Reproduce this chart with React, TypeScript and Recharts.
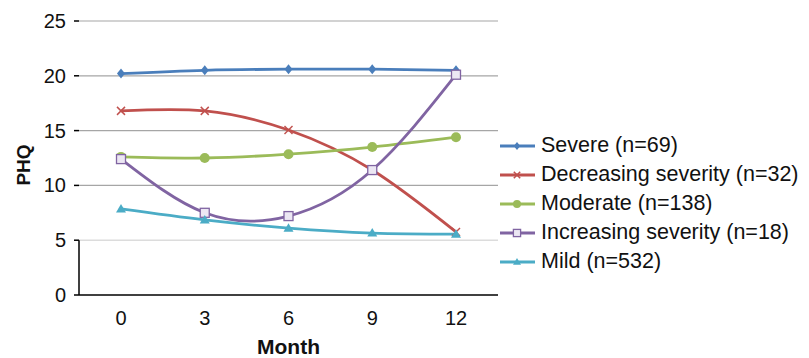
import { CartesianGrid, Line, LineChart, ReferenceLine, XAxis, YAxis } from "recharts";

const months = ["0", "3", "6", "9", "12"];
const severe = [20.2, 20.5, 20.6, 20.6, 20.5];
const decreasing = [16.8, 16.8, 15.05, 11.4, 5.75];
const moderate = [12.6, 12.5, 12.85, 13.5, 14.4];
const increasing = [12.4, 7.5, 7.2, 11.4, 20.1];
const mild = [7.85, 6.85, 6.1, 5.65, 5.55];
const yTicks = [0, 5, 10, 15, 20, 25];
const darkGrid = [10, 15, 20, 25];
const lightGrid = [5];

const SERIES = [
  { key: "severe", name: "Severe (n=69)", color: "#4a7ebb", marker: "diamond" },
  { key: "decreasing", name: "Decreasing severity (n=32)", color: "#c0504d", marker: "x" },
  { key: "moderate", name: "Moderate (n=138)", color: "#9bbb59", marker: "circle" },
  { key: "increasing", name: "Increasing severity (n=18)", color: "#8064a2", marker: "square" },
  { key: "mild", name: "Mild (n=532)", color: "#4bacc6", marker: "triangle" },
];

const data = months.map((m, i) => ({
  month: m,
  severe: severe[i],
  decreasing: decreasing[i],
  moderate: moderate[i],
  increasing: increasing[i],
  mild: mild[i],
}));

const FONT = "'Liberation Sans', Arial, sans-serif";
const PLOT_TOP = 21;
const PLOT_BOTTOM = 295;

function Marker({ kind, cx, cy, color, s = 1 }: { kind: string; cx: number; cy: number; color: string; s?: number }) {
  if (cx == null || cy == null) return null;
  if (kind === "diamond") {
    const r = 5 * s;
    return <path d={`M${cx},${cy - r}L${cx + r * 0.8},${cy}L${cx},${cy + r}L${cx - r * 0.8},${cy}Z`} fill={color} />;
  }
  if (kind === "x") {
    const r = 4 * s;
    return (
      <g stroke={color} strokeWidth={1.5}>
        <line x1={cx - r} y1={cy - r} x2={cx + r} y2={cy + r} />
        <line x1={cx - r} y1={cy + r} x2={cx + r} y2={cy - r} />
      </g>
    );
  }
  if (kind === "circle") return <circle cx={cx} cy={cy} r={5 * s} fill={color} />;
  if (kind === "square") {
    const r = 4.5 * s;
    return <rect x={cx - r} y={cy - r} width={2 * r} height={2 * r} fill="#ece7f3" stroke={color} strokeWidth={1.3} />;
  }
  const r = 5 * s;
  return <path d={`M${cx},${cy - r}L${cx + r},${cy + r * 0.7}L${cx - r},${cy + r * 0.7}Z`} fill={color} />;
}

function YTick(props: any) {
  const { x, y, payload } = props;
  const axisX = x + 13;
  return (
    <g>
      <text x={x} y={y} dy={7} textAnchor="end" fontSize={20} fill="#111" fontFamily={FONT}>
        {payload.value}
      </text>
      {payload.value === 0 && (
        <line x1={axisX} x2={axisX} y1={y} y2={y - (PLOT_BOTTOM - PLOT_TOP) / 5} stroke="#000" strokeWidth={1.5} />
      )}
    </g>
  );
}

function Legend() {
  return (
    <div style={{ position: "absolute", left: 499, top: 131, fontFamily: FONT, fontSize: 21.5, color: "#111" }}>
      {SERIES.map((s) => (
        <div key={s.key} style={{ display: "flex", alignItems: "center", height: 29, whiteSpace: "nowrap" }}>
          <svg width={42} height={20}>
            <line x1={1} x2={36} y1={10} y2={10} stroke={s.color} strokeWidth={3} />
            <Marker kind={s.marker} cx={18} cy={10} color={s.color} s={0.8} />
          </svg>
          <span>{s.name}</span>
        </div>
      ))}
    </div>
  );
}

export default function App() {
  return (
    <div style={{ position: "absolute", left: 0, top: 0, width: 809, height: 358, background: "#fff" }}>
      <LineChart width={809} height={358} data={data} margin={{ top: PLOT_TOP, right: 311, left: 0, bottom: 0 }}>
        <CartesianGrid horizontal={false} vertical={false} />
        {lightGrid.map((v) => (
          <ReferenceLine key={`l${v}`} y={v} stroke="#dcdcdc" strokeWidth={1.5} />
        ))}
        {darkGrid.map((v) => (
          <ReferenceLine key={`d${v}`} y={v} stroke="#a6a6a6" strokeWidth={1.2} />
        ))}
        <XAxis
          dataKey="month"
          height={63}
          padding={{ left: 42, right: 42 }}
          axisLine={{ stroke: "#000", strokeWidth: 1.5 }}
          tickLine={false}
          tickMargin={10}
          tick={{ fontSize: 20, fill: "#111", fontFamily: FONT }}
          label={{
            value: "Month",
            position: "insideBottom",
            offset: 4,
            style: { fontSize: 21, fontWeight: "bold", fill: "#111", fontFamily: FONT },
          }}
        />
        <YAxis
          width={79}
          domain={[0, 25]}
          ticks={yTicks}
          interval={0}
          axisLine={false}
          tickLine={{ stroke: "#000", strokeWidth: 1.5 }}
          tickSize={5}
          tickMargin={8}
          tick={<YTick />}
          label={(p: any) => {
            const vb = p.viewBox;
            const cx = 23;
            const cy = vb.y + vb.height / 2 + 7;
            return (
              <text
                x={cx}
                y={cy}
                transform={`rotate(-90, ${cx}, ${cy})`}
                textAnchor="middle"
                dominantBaseline="central"
                fontSize={19}
                fontWeight="bold"
                fill="#111"
                fontFamily={FONT}
              >
                PHQ
              </text>
            );
          }}
        />
        {SERIES.map((s) => (
          <Line
            key={s.key}
            dataKey={s.key}
            name={s.name}
            type="natural"
            stroke={s.color}
            strokeWidth={2.8}
            dot={(p: any) => <Marker key={`${s.key}-${p.index}`} kind={s.marker} cx={p.cx} cy={p.cy} color={s.color} />}
            activeDot={false}
            isAnimationActive={false}
          />
        ))}
      </LineChart>
      <Legend />
    </div>
  );
}
